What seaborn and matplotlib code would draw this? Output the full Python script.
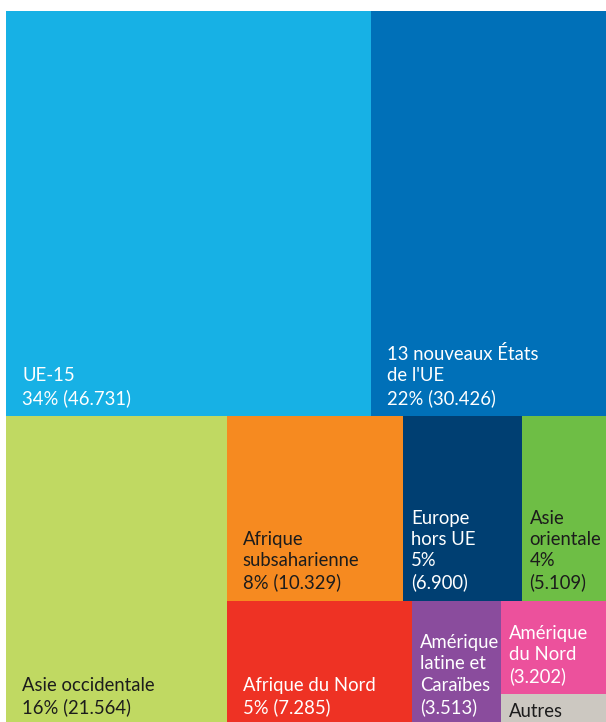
# Treemap: origine des résidents étrangers (reconstruction)
import matplotlib
matplotlib.use("Agg")
import matplotlib.pyplot as plt
import seaborn as sns

# =====================================================
# Data
# =====================================================
regions = ["UE-15", "13 nouveaux", "Asie occidentale", "Afrique subsaharienne",
           "Europe hors UE", "Asie orientale", "Afrique du Nord",
           "Amérique latine", "Amérique du Nord", "Autres"]
values = [46731, 30426, 21564, 10329, 6900, 5109, 7285, 3513, 3202, 1050]
labels = ["UE-15\n34% (46.731)",
          "13 nouveaux États\nde l'UE\n22% (30.426)",
          "Asie occidentale\n16% (21.564)",
          "Afrique\nsubsaharienne\n8% (10.329)",
          "Europe\nhors UE\n5%\n(6.900)",
          "Asie\norientale\n4%\n(5.109)",
          "Afrique du Nord\n5% (7.285)",
          "Amérique\nlatine et\nCaraïbes\n(3.513)",
          "Amérique\ndu Nord\n(3.202)",
          "Autres"]
colors = ["#17b1e5", "#0070b8", "#c0d962", "#f68a20", "#003f72",
          "#6ebe45", "#ee3224", "#8a4c9d", "#ec519c", "#ccc8c1"]
text_colors = ["white", "white", "#1c1c1c", "#1c1c1c", "white",
               "#1c1c1c", "white", "white", "white", "#1c1c1c"]

# nesting of the slices: "v" stacks children top to bottom, "h" left to right
tree = ("v", [("h", ["UE-15", "13 nouveaux"]),
              ("h", ["Asie occidentale",
                     ("v", [("h", ["Afrique subsaharienne", "Europe hors UE", "Asie orientale"]),
                            ("h", ["Afrique du Nord", "Amérique latine",
                                   ("v", ["Amérique du Nord", "Autres"])])])])])

value_of = dict(zip(regions, values))


def total(node):
    if isinstance(node, str):
        return value_of[node]
    return sum(total(c) for c in node[1])


def layout(node, x, y, w, h, out):
    if isinstance(node, str):
        out[node] = (x, y, w, h)
        return
    direction, children = node
    tot = total(node)
    pos = 0.0
    for c in children:
        frac = total(c) / tot
        if direction == "h":
            layout(c, x + pos * w, y, frac * w, h, out)
        else:
            layout(c, x, y + pos * h, w, frac * h, out)
        pos += frac


rects = {}
layout(tree, 0.0, 0.0, 1.0, 1.0, rects)

# =====================================================
# Plot
# =====================================================
sns.set_theme(style="white")
plt.rcParams["font.family"] = ["Lato", "DejaVu Sans"]

W, H = 606, 722
fig = plt.figure(figsize=(W / 72, H / 72), dpi=72)
# the treemap runs a little past the right and bottom edges (cropped)
ax = fig.add_axes([6 / W, (H - 11 - 714) / H, 603 / W, 714 / H])

xs = [rects[r][0] for r in regions]
ys = [rects[r][1] for r in regions]
ws = [rects[r][2] for r in regions]
hs = [rects[r][3] for r in regions]
ax.bar(xs, hs, width=ws, bottom=ys, align="edge", color=colors,
       edgecolor="none", linewidth=0)

big = {"UE-15", "13 nouveaux", "Asie occidentale", "Afrique subsaharienne",
       "Afrique du Nord"}
for r, lab, tc, x, y, w, h in zip(regions, labels, text_colors, xs, ys, ws, hs):
    padx = 16 if r in big else 8
    if r == "Autres":
        ax.annotate(lab, xy=(x, y), xytext=(padx, -9), textcoords="offset points",
                    ha="left", va="top", fontsize=18.5, color=tc, linespacing=1.3)
    else:
        ax.annotate(lab, xy=(x, y + h), xytext=(padx, 9), textcoords="offset points",
                    ha="left", va="bottom", fontsize=18.5, color=tc, linespacing=1.3)

ax.set_xlim(0, 1)
ax.set_ylim(1, 0)
ax.axis("off")

fig.savefig("out.png", dpi=72)
